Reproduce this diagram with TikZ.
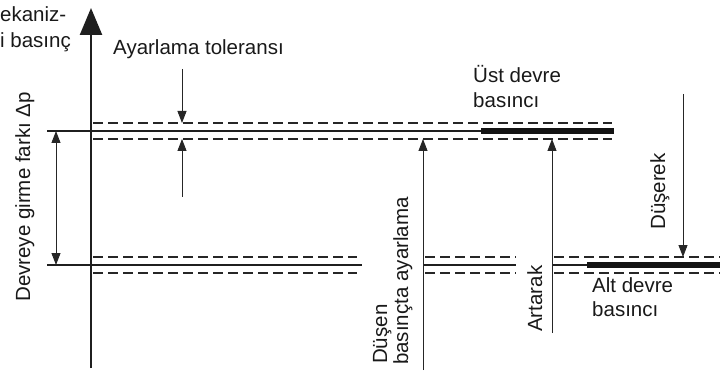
\documentclass[tikz,border=0pt]{standalone}
\usepackage{fontspec}
\setmainfont{Liberation Sans}
\usetikzlibrary{arrows.meta}
\begin{document}
\begin{tikzpicture}[x=1pt,y=-1pt,
  lbl/.style={inner sep=0pt, font=\fontsize{20.5}{24.5}\selectfont, text=black!90},
  axisline/.style={line width=2.4pt, draw=black!88},
  level/.style={line width=2.4pt, draw=black!88},
  heavy/.style={line width=6.5pt, draw=black!92},
  tol/.style={line width=1.4pt, draw=black!85, dash pattern=on 9.5pt off 5.5pt},
  thinarrow/.style={line width=0.9pt, draw=black!85, -{Triangle[width=9pt,length=12pt]}},
  dimarrow/.style={line width=0.9pt, draw=black!85, {Triangle[width=9pt,length=12pt]}-{Triangle[width=9pt,length=12pt]}},
  ]
\useasboundingbox (0,0) rectangle (720,374);

% axis
\coordinate (ax0) at (91,368);
\coordinate (ax1) at (91,8);
\draw[axisline, -{Triangle[width=22pt,length=27pt]}] (ax0) -- (ax1);

% upper level
\coordinate (uL) at (47,131);
\coordinate (uM) at (481,131);
\coordinate (uR) at (614,131);
\draw[level] (uL) -- (uM);
\draw[heavy] (uM) -- (uR);
\coordinate (ut0) at (93,123); \coordinate (ut1) at (612,123);
\coordinate (ub0) at (93,139); \coordinate (ub1) at (612,139);
\draw[tol] (ut0) -- (ut1);
\draw[tol] (ub0) -- (ub1);

% lower level
\coordinate (l1a) at (47,265);  \coordinate (l1b) at (362,265);
\coordinate (l2a) at (423,265); \coordinate (l2b) at (516,265);
\coordinate (l3a) at (552,265); \coordinate (l3b) at (587,265);
\coordinate (l4b) at (720,265);
\draw[level] (l1a) -- (l1b);
\draw[level] (l2a) -- (l2b);
\draw[level] (l3a) -- (l3b);
\draw[heavy] (l3b) -- (l4b);
\draw[tol] (93,257) -- (357,257);
\draw[tol] (93,273) -- (357,273);
\draw[tol] (425,257) -- (516,257);
\draw[tol] (425,273) -- (516,273);
\draw[tol] (554,257) -- (720,257);
\draw[tol] (554,273) -- (720,273);

% tolerance arrows
\coordinate (tdA) at (182,69);  \coordinate (tdB) at (182,123);
\coordinate (tuA) at (182,197); \coordinate (tuB) at (182,139);
\draw[thinarrow] (tdA) -- (tdB);
\draw[thinarrow] (tuA) -- (tuB);

% dimension arrow
\coordinate (dA) at (56,131); \coordinate (dB) at (56,265);
\draw[dimarrow] (dA) -- (dB);

% vertical arrows
\coordinate (v1a) at (423,370); \coordinate (v1b) at (423,139);
\coordinate (v2a) at (552,333); \coordinate (v2b) at (552,139);
\coordinate (v3a) at (683,94);  \coordinate (v3b) at (683,257);
\draw[thinarrow] (v1a) -- (v1b);
\draw[thinarrow] (v2a) -- (v2b);
\draw[thinarrow] (v3a) -- (v3b);

% texts
\node[lbl, anchor=base west] (t1) at (0,22) {ekaniz-};
\node[lbl, anchor=base west] (t2) at (0,48) {i basınç};
\node[lbl, anchor=base west] (tol) at (113,55) {Ayarlama toleransı};
\node[lbl, anchor=base west] (ust1) at (473,83) {Üst devre};
\node[lbl, anchor=base west] (ust2) at (473,108) {basıncı};
\node[lbl, anchor=base west] (alt1) at (592,292) {Alt devre};
\node[lbl, anchor=base west] (alt2) at (592,316) {basıncı};
\node[lbl, anchor=base west, rotate=90] (dp) at (30,302) {Devreye girme farkı Δp};
\node[lbl, anchor=base west, rotate=90] (dus1) at (387,364) {Düşen};
\node[lbl, anchor=base west, rotate=90] (dus2) at (408,365) {basınçta ayarlama};
\node[lbl, anchor=base west, rotate=90] (art) at (542,332) {Artarak};
\node[lbl, anchor=base west, rotate=90] (dse) at (665,230) {Düşerek};
\end{tikzpicture}
\end{document}
